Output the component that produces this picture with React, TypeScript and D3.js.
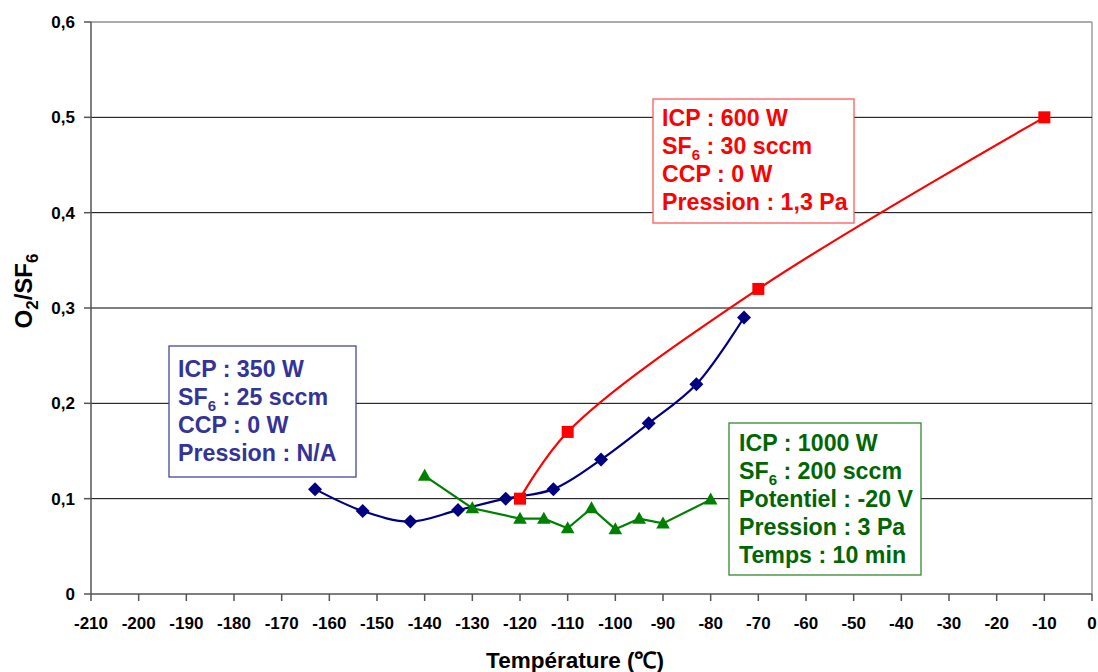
import React from "react";
import * as d3 from "d3";

const W = 1098;
const H = 672;

const xTicks = [-210, -200, -190, -180, -170, -160, -150, -140, -130, -120, -110, -100, -90, -80, -70, -60, -50, -40, -30, -20, -10, 0];
const yTicks = [0, 0.1, 0.2, 0.3, 0.4, 0.5, 0.6];

const blueT = [-163, -153, -143, -133, -123, -113, -103, -93, -83, -73];
const blueV = [0.11, 0.087, 0.076, 0.088, 0.1, 0.11, 0.141, 0.179, 0.22, 0.29];

const redT = [-120, -110, -70, -10];
const redV = [0.1, 0.17, 0.32, 0.5];

const greenT = [-140, -130, -120, -115, -110, -105, -100, -95, -90, -80];
const greenV = [0.124, 0.09, 0.079, 0.079, 0.069, 0.09, 0.068, 0.079, 0.074, 0.099];

const BLUE = "#000080";
const RED = "#FF0000";
const GREEN = "#008000";

const FONT = "'Liberation Sans', Arial, sans-serif";

type Line = { pre: string; sub?: string; post?: string };

const blueBox: Line[] = [
  { pre: "ICP : 350 W" },
  { pre: "SF", sub: "6", post: " : 25 sccm" },
  { pre: "CCP : 0 W" },
  { pre: "Pression : N/A" },
];
const redBox: Line[] = [
  { pre: "ICP : 600 W" },
  { pre: "SF", sub: "6", post: " : 30 sccm" },
  { pre: "CCP : 0 W" },
  { pre: "Pression : 1,3 Pa" },
];
const greenBox: Line[] = [
  { pre: "ICP : 1000 W" },
  { pre: "SF", sub: "6", post: " : 200 sccm" },
  { pre: "Potentiel : -20 V" },
  { pre: "Pression : 3 Pa" },
  { pre: "Temps : 10 min" },
];

function TextBox(props: {
  x: number; y: number; w: number; h: number; lines: Line[];
  color: string; border: string; tx: number; ty: number; step: number;
}) {
  const { x, y, w, h, lines, color, border, tx, ty, step } = props;
  return (
    <g>
      <rect x={x} y={y} width={w} height={h} fill="#fff" stroke={border} strokeWidth={1.3} />
      {lines.map((l, i) => (
        <text key={i} x={tx} y={ty + i * step} fill={color} fontFamily={FONT} fontWeight="bold" fontSize={23.2}>
          {l.pre}
          {l.sub !== undefined && (
            <tspan fontSize={15} dy={6}>{l.sub}</tspan>
          )}
          {l.post !== undefined && <tspan dy={l.sub !== undefined ? -6 : 0}>{l.post}</tspan>}
        </text>
      ))}
    </g>
  );
}

export default function App() {
  const x = d3.scaleLinear().domain([-210, 0]).range([91, 1092]);
  const y = d3.scaleLinear().domain([0, 0.6]).range([594, 22]);

  const blueData = blueT.map((t, i) => [t, blueV[i]] as [number, number]);
  const redData = redT.map((t, i) => [t, redV[i]] as [number, number]);
  const greenData = greenT.map((t, i) => [t, greenV[i]] as [number, number]);

  const smooth = d3.line<[number, number]>()
    .x((d) => x(d[0]))
    .y((d) => y(d[1]))
    .curve(d3.curveCatmullRom.alpha(0.5));
  const straight = d3.line<[number, number]>()
    .x((d) => x(d[0]))
    .y((d) => y(d[1]));

  const x0 = x(-210);
  const x1 = x(0);
  const y0 = y(0);
  const y1 = y(0.6);

  return (
    <svg width={W} height={H} style={{ position: "absolute", left: 0, top: 0, background: "#fff" }}>
      {/* plot border top/right */}
      <line x1={x0} x2={x1} y1={y1} y2={y1} stroke="#909090" strokeWidth={1.3} />
      <line x1={x1} x2={x1} y1={y1} y2={y0} stroke="#909090" strokeWidth={1.3} />
      {/* grid */}
      {yTicks.filter((v) => v > 0 && v < 0.6).map((v) => (
        <line key={v} x1={x0} x2={x1} y1={y(v)} y2={y(v)} stroke="#000" strokeWidth={1} />
      ))}
      {/* axes */}
      <line x1={x0} x2={x0} y1={y1} y2={y0} stroke="#555" strokeWidth={1.5} />
      <line x1={x0} x2={x1} y1={y0} y2={y0} stroke="#555" strokeWidth={1.5} />
      {yTicks.map((v) => (
        <g key={"yt" + v}>
          <line x1={x0 - 7} x2={x0} y1={y(v)} y2={y(v)} stroke="#555" strokeWidth={1.5} />
          <text x={75} y={y(v)} dy="0.35em" textAnchor="end" fontFamily={FONT} fontWeight="bold" fontSize={17} fill="#000">
            {v === 0 ? "0" : d3.format(".1f")(v).replace(".", ",")}
          </text>
        </g>
      ))}
      {xTicks.map((t) => (
        <g key={"xt" + t}>
          <line x1={x(t)} x2={x(t)} y1={y0} y2={y0 + 7} stroke="#555" strokeWidth={1.5} />
          <text x={x(t)} y={623} dy="0.35em" textAnchor="middle" fontFamily={FONT} fontWeight="bold" fontSize={17} fill="#000">
            {String(t)}
          </text>
        </g>
      ))}

      {/* axis titles */}
      <text x={575} y={668} textAnchor="middle" fontFamily={FONT} fontWeight="bold" fontSize={22.5} fill="#000">
        Température (℃)
      </text>
      <text transform="translate(32,291) rotate(-90)" textAnchor="middle" fontFamily={FONT} fontWeight="bold" fontSize={24} fill="#000">
        O<tspan fontSize={17} dy={6}>2</tspan><tspan dy={-6}>/SF</tspan><tspan fontSize={17} dy={6}>6</tspan>
      </text>

      {/* series lines */}
      <path d={smooth(blueData) || ""} fill="none" stroke={BLUE} strokeWidth={2.2} />
      <path d={straight(greenData) || ""} fill="none" stroke={GREEN} strokeWidth={2.2} />
      <path d={smooth(redData) || ""} fill="none" stroke={RED} strokeWidth={2.2} />

      {/* markers */}
      {blueData.map((d, i) => (
        <path key={"b" + i} d="M0,-7L7,0L0,7L-7,0Z" transform={`translate(${x(d[0])},${y(d[1])})`} fill={BLUE} />
      ))}
      {greenData.map((d, i) => (
        <path key={"g" + i} d="M0,-7L6.8,5L-6.8,5Z" transform={`translate(${x(d[0])},${y(d[1])})`} fill={GREEN} />
      ))}
      {redData.map((d, i) => (
        <rect key={"r" + i} x={x(d[0]) - 6} y={y(d[1]) - 6} width={12} height={12} fill={RED} />
      ))}

      {/* annotation boxes */}
      <TextBox x={169} y={346} w={187} h={131} lines={blueBox} color="#333399" border="#4545A5" tx={178} ty={377} step={28} />
      <TextBox x={653} y={99} w={201} h={124} lines={redBox} color={RED} border="#FF5A5A" tx={662} ty={126} step={28} />
      <TextBox x={729} y={423} w={192} h={152} lines={greenBox} color="#006600" border="#2E8B2E" tx={739} ty={451} step={28} />
    </svg>
  );
}
